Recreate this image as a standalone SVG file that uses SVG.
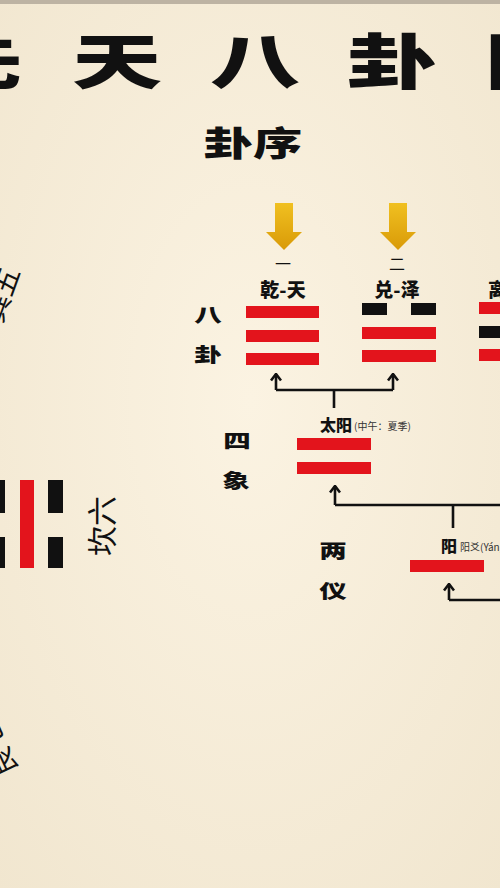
<svg xmlns="http://www.w3.org/2000/svg" width="500" height="888" viewBox="0 0 500 888">
<defs>
<radialGradient id="bg" cx="0.5" cy="0.45" r="0.75">
<stop offset="0" stop-color="#fbf3e2"/>
<stop offset="1" stop-color="#f1e6cf"/>
</radialGradient>
<linearGradient id="gold" x1="0" y1="0" x2="0" y2="1">
<stop offset="0" stop-color="#f0c020"/>
<stop offset="1" stop-color="#d99a08"/>
</linearGradient>
<marker id="ah" viewBox="0 0 10 12" refX="8.5" refY="6" markerWidth="10" markerHeight="12" markerUnits="userSpaceOnUse" orient="auto">
<polyline points="2,1 8.5,6 2,11" fill="none" stroke="#111" stroke-width="2.6"/>
</marker>
<path id="yarrow" d="M-9,0 H9 V29 H18 L0,47 L-18,29 H-9 Z"/>
</defs>
<style>
.cjk{font-family:"Noto Sans CJK SC","Noto Sans CJK TC",sans-serif;fill:#111}
.hv{font-weight:900}
.red{fill:#e3141c}
.blk{fill:#111}
.ln{fill:none;stroke:#111;stroke-width:2.6}
.sm{font-family:"Noto Sans CJK SC",sans-serif;font-size:10px;fill:#333}
</style>
<rect width="500" height="888" fill="url(#bg)"/>
<rect width="500" height="4" fill="#bdb3a3"/>

<g id="title" class="cjk hv" font-size="60">
<text transform="translate(-22,84) scale(1.5,1)" text-anchor="middle">先</text>
<text transform="translate(117,84) scale(1.5,1)" text-anchor="middle">天</text>
<text transform="translate(255,84) scale(1.5,1)" text-anchor="middle">八</text>
<text transform="translate(392,84) scale(1.5,1)" text-anchor="middle">卦</text>
<text transform="translate(530,84) scale(1.5,1)" text-anchor="middle">图</text>
</g>

<g id="guaxu">
<text class="cjk hv" font-size="34" transform="translate(253,156) scale(1.45,1)" text-anchor="middle">卦序</text>
</g>

<g id="arrow1"><use href="#yarrow" x="284" y="203" fill="url(#gold)"/></g>
<g id="arrow2"><use href="#yarrow" x="398" y="203" fill="url(#gold)"/></g>

<g id="label-bagua" class="cjk hv" font-size="19">
<text transform="translate(208,322) scale(1.45,1)" text-anchor="middle">八</text>
<text transform="translate(208,362) scale(1.45,1)" text-anchor="middle">卦</text>
</g>

<g id="qian">
<text class="cjk" font-size="16" x="283" y="270" text-anchor="middle">一</text>
<text class="cjk hv" font-size="19" x="283" y="297" text-anchor="middle">乾-天</text>
<rect class="red" x="246" y="306" width="73" height="12"/>
<rect class="red" x="246" y="330" width="73" height="12"/>
<rect class="red" x="246" y="353" width="73" height="12"/>
</g>

<g id="dui">
<text class="cjk" font-size="16" x="397" y="270" text-anchor="middle">二</text>
<text class="cjk hv" font-size="19" x="397" y="297" text-anchor="middle">兑-泽</text>
<rect class="blk" x="362" y="303" width="25" height="12"/>
<rect class="blk" x="411" y="303" width="25" height="12"/>
<rect class="red" x="362" y="327" width="74" height="12"/>
<rect class="red" x="362" y="350" width="74" height="12"/>
</g>

<g id="li">
<text class="cjk hv" font-size="19" x="488" y="297">离</text>
<rect class="red" x="479" y="302" width="40" height="12"/>
<rect class="blk" x="479" y="326" width="40" height="12"/>
<rect class="red" x="479" y="349" width="40" height="12"/>
</g>

<g id="label-sixiang" class="cjk hv" font-size="19">
<text transform="translate(237,448) scale(1.45,1)" text-anchor="middle">四</text>
<text transform="translate(236,488) scale(1.45,1)" text-anchor="middle">象</text>
</g>

<g id="taiyang">
<text class="cjk hv" font-size="16" x="320" y="431">太阳</text>
<text class="sm" x="354" y="430">(中午：夏季)</text>
<rect class="red" x="297" y="438" width="74" height="12"/>
<rect class="red" x="297" y="462" width="74" height="12"/>
</g>

<g id="label-liangyi" class="cjk hv" font-size="19">
<text transform="translate(333,558) scale(1.45,1)" text-anchor="middle">两</text>
<text transform="translate(333,598) scale(1.45,1)" text-anchor="middle">仪</text>
</g>

<g id="yang">
<text class="cjk hv" font-size="16" x="441" y="552">阳</text>
<text class="sm" x="460" y="551">阳爻(Yáng)</text>
<rect class="red" x="410" y="560" width="74" height="12"/>
</g>

<g id="kan">
<rect class="blk" x="-10" y="480" width="15" height="33"/>
<rect class="blk" x="-10" y="537" width="15" height="31"/>
<rect class="red" x="20" y="480" width="14" height="88"/>
<rect class="blk" x="48" y="480" width="15" height="33"/>
<rect class="blk" x="48" y="537" width="15" height="31"/>
<text class="cjk" font-size="30" transform="translate(113,526) rotate(-90)" text-anchor="middle">坎六</text>
</g>

<g id="xun">
<text class="cjk" font-size="28" transform="translate(11,298) rotate(-70)" text-anchor="middle">巽五</text>
</g>

<g id="gen">
<text class="cjk" font-size="28" transform="translate(7,745) rotate(-115)" text-anchor="middle">艮七</text>
</g>

<g id="connectors">
<path class="ln" d="M276,390 H393"/>
<path class="ln" d="M276,390 V374" marker-end="url(#ah)"/>
<path class="ln" d="M393,390 V374" marker-end="url(#ah)"/>
<path class="ln" d="M334,390 V408"/>
<path class="ln" d="M335,505 H502"/>
<path class="ln" d="M335,505 V486" marker-end="url(#ah)"/>
<path class="ln" d="M453,505 V528"/>
<path class="ln" d="M449,600 H502"/>
<path class="ln" d="M449,600 V584" marker-end="url(#ah)"/>
</g>
</svg>
